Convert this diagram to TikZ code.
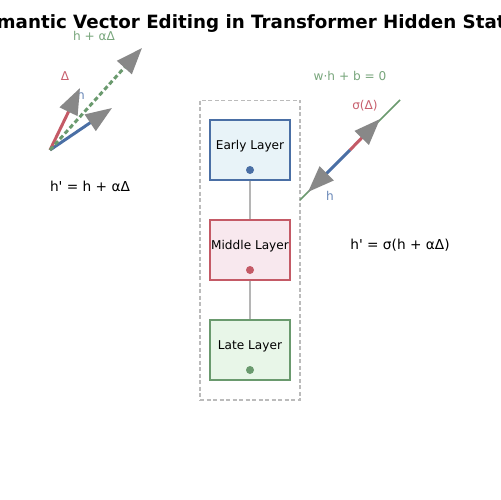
\documentclass[tikz,border=0pt]{standalone}
\usepackage{fontspec}
\setmainfont{DejaVu Sans}[Ligatures=TeXOff]
\usetikzlibrary{arrows.meta}
\definecolor{cblue}{HTML}{4A6FA5}
\definecolor{cred}{HTML}{C45A66}
\definecolor{cgreen}{HTML}{6A9A6E}
\definecolor{tblue}{HTML}{6A88B8}
\definecolor{tred}{HTML}{C8606E}
\definecolor{tgreen}{HTML}{78A67C}
\definecolor{fblue}{HTML}{E8F3F8}
\definecolor{fred}{HTML}{F8E8EE}
\definecolor{fgreen}{HTML}{E8F6E8}
\definecolor{arrowgray}{HTML}{888888}
\definecolor{dashgray}{HTML}{BBBBBB}
\definecolor{linkgray}{HTML}{B5B5B5}
\begin{document}
\begin{tikzpicture}[x=0.02cm,y=-0.02cm,
  layerbox/.style={draw, line width=0.85pt, minimum width=1.6cm, minimum height=1.2cm, inner sep=0pt},
  lbl/.style={font=\fontsize{6.9}{8}\selectfont, inner sep=0pt},
  formula/.style={font=\fontsize{7.8}{9}\selectfont, inner sep=0pt},
  dotnode/.style={circle, inner sep=0pt, minimum size=0.16cm},
  vec/.style={line width=1.7pt, -{Triangle[length=15pt,width=11pt,color=arrowgray]}},
  link/.style={draw=linkgray, line width=0.7pt}
]
\useasboundingbox (0,0) rectangle (500,500);
\clip (0,0) rectangle (500,500);
\fill[white] (0,0) rectangle (500,500);

% title
\node[font=\bfseries\fontsize{10.4}{12}\selectfont, inner sep=0pt] (title) at (250,24) {Semantic Vector Editing in Transformer Hidden States};

% layer stack
\node[draw=dashgray, dashed, dash pattern=on 2.3pt off 1.4pt, line width=0.6pt, minimum width=2cm, minimum height=6cm, inner sep=0pt] (stack) at (250,250) {};
\node[layerbox, draw=cblue, fill=fblue] (early) at (250,150) {};
\node[layerbox, draw=cred, fill=fred] (middle) at (250,250) {};
\node[layerbox, draw=cgreen, fill=fgreen] (late) at (250,350) {};
\draw[link] (early.south) -- (middle.north);
\draw[link] (middle.south) -- (late.north);
\node[lbl] (earlyt) at (250,146) {Early Layer};
\node[lbl] (middlet) at (250,246) {Middle Layer};
\node[lbl] (latet) at (250,346) {Late Layer};
\node[dotnode, fill=cblue] (earlyd) at (250,170) {};
\node[dotnode, fill=cred] (middled) at (250,270) {};
\node[dotnode, fill=cgreen] (lated) at (250,370) {};

% left: additive edit
\coordinate (o) at (50,150);
\coordinate (htip) at (112,108);
\coordinate (dtip) at (80,88);
\coordinate (stip) at (142,48);
\node[lbl, text=tblue] (hlabL) at (81,95) {h};
\draw[vec, cblue] (o) -- (htip);
\draw[vec, cred] (o) -- (dtip);
\draw[vec, cgreen, dash pattern=on 2.6pt off 1.6pt] (o) -- (stip);
\node[lbl, text=tred] (dlab) at (65,76) {Δ};
\node[lbl, text=tgreen] (slab) at (94,36) {h + αΔ};
\node[formula] (f1) at (90,186) {h' = h + αΔ};

% right: projection onto boundary
\coordinate (b1) at (300,200);
\coordinate (b2) at (400,100);
\coordinate (c) at (350,150);
\coordinate (rtip) at (380,119);
\coordinate (btip) at (308,192);
\draw[cgreen, line width=0.85pt] (b1) -- (b2);
\draw[vec, cblue] (c) -- (btip);
\draw[vec, cred] (c) -- (rtip);
\node[lbl, text=tgreen] (wlab) at (350,76) {w·h + b = 0};
\node[lbl, text=tred] (sigl) at (365,106) {σ(Δ)};
\node[lbl, text=tblue] (hlabR) at (330,196) {h};
\node[formula] (f2) at (400,245) {h' = σ(h + αΔ)};
\end{tikzpicture}
\end{document}
